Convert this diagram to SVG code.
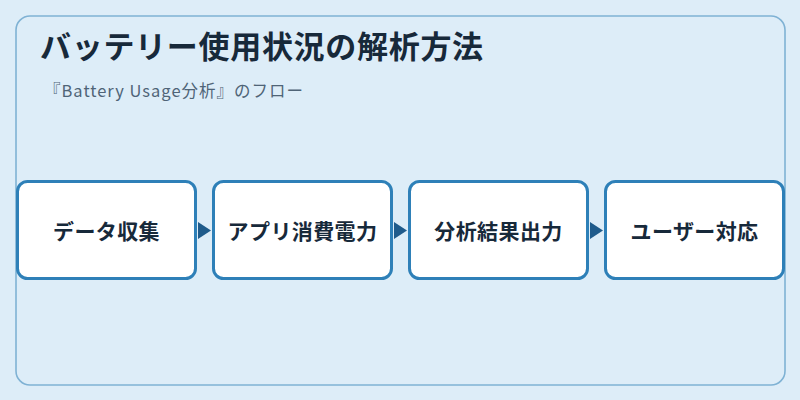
<svg xmlns="http://www.w3.org/2000/svg" width="800" height="400" viewBox="0 0 800 400">
<style>
.bg{fill:#ddedf8}
.frame{fill:#ddedf8;stroke:#7fb2d4;stroke-width:1.6}
.title{font-family:"Noto Sans CJK JP","Noto Sans",sans-serif;font-weight:700;font-size:31px;fill:#17293a}
.sub{font-family:"Noto Sans CJK JP","Noto Sans",sans-serif;font-size:16.5px;fill:#4f6477}
.box{fill:#ffffff;stroke:#2e80b8;stroke-width:3}
.lbl{font-family:"Noto Sans CJK JP","Noto Sans",sans-serif;font-weight:700;font-size:21px;fill:#17293a;text-anchor:middle}
.arr{fill:#1f5b8b}
</style>
<rect class="bg" x="0" y="0" width="800" height="400"/>
<rect class="frame" x="16" y="16" width="769" height="369" rx="14"/>
<text class="title" x="40" y="58" letter-spacing="0.7">バッテリー使用状況の解析方法</text>
<text class="sub" x="44" y="97" letter-spacing="1">『Battery Usage分析』のフロー</text>
<g id="connectors">
<polygon class="arr" points="198,222 211,230.5 198,239"/>
<polygon class="arr" points="394,222 407,230.5 394,239"/>
<polygon class="arr" points="590,222 603,230.5 590,239"/>
</g>
<g id="node1"><rect class="box" x="17.5" y="181.5" width="178" height="97" rx="10"/><text class="lbl" x="106.5" y="238.5" letter-spacing="0.4">データ収集</text></g>
<g id="node2"><rect class="box" x="213.5" y="181.5" width="178" height="97" rx="10"/><text class="lbl" x="302.5" y="238.5" letter-spacing="0.4">アプリ消費電力</text></g>
<g id="node3"><rect class="box" x="409.5" y="181.5" width="178" height="97" rx="10"/><text class="lbl" x="498.5" y="238.5" letter-spacing="0.4">分析結果出力</text></g>
<g id="node4"><rect class="box" x="605.5" y="181.5" width="178" height="97" rx="10"/><text class="lbl" x="694.5" y="238.5" letter-spacing="0.4">ユーザー対応</text></g>
</svg>
